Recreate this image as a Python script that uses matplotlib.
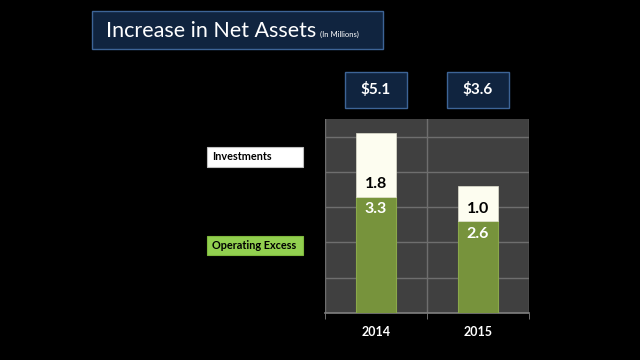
import matplotlib.pyplot as plt
from matplotlib.patches import Rectangle
import matplotlib.transforms as mtransforms

years = ['2014', '2015']
operating = [3.3, 2.6]
investments = [1.8, 1.0]
totals = ['$5.1', '$3.6']

plt.rcParams['font.family'] = ['Lato', 'DejaVu Sans']

fig = plt.figure(figsize=(6.4, 3.6), dpi=100, facecolor='black')
ax = fig.add_axes([325 / 640, 47 / 360, 204 / 640, 194 / 360])
ax.set_facecolor('#404040')

x = range(len(years))
ax.bar(x, operating, width=0.39, color='#77933c', edgecolor='#8aa84a', linewidth=0.8, zorder=3)
ax.bar(x, investments, width=0.39, bottom=operating, color='#fdfdf0',
       edgecolor='#e0e0d0', linewidth=0.5, zorder=3)

for i in x:
    ax.text(i, operating[i] - 0.35, f'{operating[i]:.1f}', ha='center', va='center',
            color='white', fontsize=11.5, fontweight='bold', zorder=4)
    ax.text(i, operating[i] + 0.35, f'{investments[i]:.1f}', ha='center', va='center',
            color='black', fontsize=11.5, fontweight='bold', zorder=4)

ax.set_xlim(-0.5, 1.5)
ax.set_ylim(0, 5.5)
ax.set_yticks([1, 2, 3, 4, 5])
ax.set_yticklabels([])
ax.tick_params(axis='y', length=0)
ax.set_xticks([0, 1])
ax.set_xticklabels(years, color='white', fontsize=9, fontweight='bold')
ax.set_xticks([-0.5, 0.5, 1.5], minor=True)
ax.tick_params(axis='x', which='major', length=0, pad=9)
ax.tick_params(axis='x', which='minor', length=4, color='#808080', direction='out')
ax.grid(True, axis='y', color='#6e6e6e', linewidth=1, zorder=0)
ax.grid(True, axis='x', which='minor', color='#6e6e6e', linewidth=1, zorder=0)
for s in ['top', 'right', 'left']:
    ax.spines[s].set_visible(False)
ax.spines['bottom'].set_color('#808080')
ax.spines['bottom'].set_linewidth(1.2)

# total boxes above the bars
trans = mtransforms.blended_transform_factory(ax.transData, ax.transAxes)
for i, t in zip(x, totals):
    ax.add_patch(Rectangle((i - 0.3, 1.057), 0.6, 0.185, transform=trans,
                           facecolor='#10243f', edgecolor='#3d6496', linewidth=1,
                           clip_on=False))
    ax.text(i, 1.15, t, transform=trans, ha='center', va='center', color='white',
            fontsize=11, fontweight='bold')

# title box
fig.patches.append(Rectangle((92 / 640, 1 - 49 / 360), 291 / 640, 38 / 360,
                             transform=fig.transFigure, facecolor='#10243f',
                             edgecolor='#3d6496', linewidth=1))
fig.text(106 / 640, 1 - 31 / 360, 'Increase in Net Assets', color='white',
         fontsize=15.5, va='center', ha='left')
fig.text(320 / 640, 1 - 34 / 360, '(In Millions)', color='white',
         fontsize=5.5, va='center', ha='left')

# legend boxes
fig.patches.append(Rectangle((207 / 640, 1 - 167 / 360), 96 / 640, 20 / 360,
                             transform=fig.transFigure, facecolor='white',
                             edgecolor='#bfbfbf', linewidth=0.8))
fig.text(212 / 640, 1 - 157 / 360, 'Investments', color='black', fontsize=7.8,
         fontweight='bold', va='center', ha='left')
fig.patches.append(Rectangle((207 / 640, 1 - 255 / 360), 96 / 640, 19 / 360,
                             transform=fig.transFigure, facecolor='#92d050',
                             edgecolor='#7fb83c', linewidth=0.8))
fig.text(212 / 640, 1 - 245.5 / 360, 'Operating Excess', color='black', fontsize=7.8,
         fontweight='bold', va='center', ha='left')

fig.savefig('out.png', dpi=100, facecolor='black')
